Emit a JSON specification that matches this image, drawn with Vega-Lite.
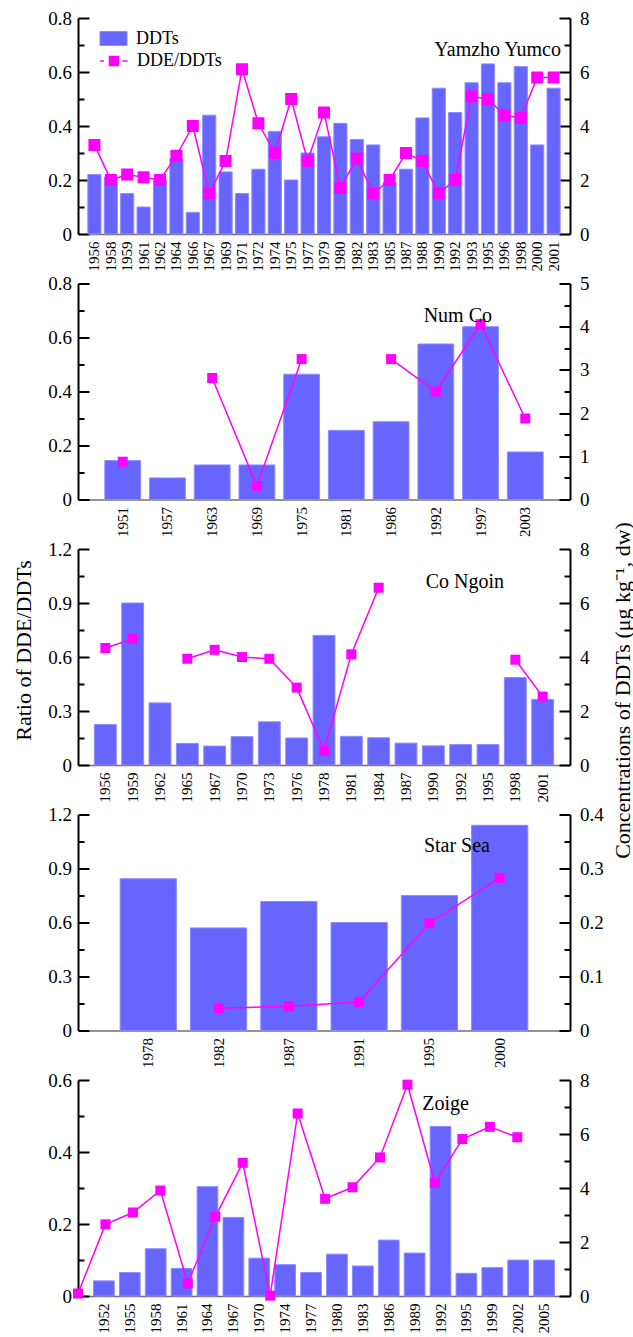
{
  "$schema": "https://vega.github.io/schema/vega-lite/v6.json",
  "padding": {"left": 12, "top": 9, "right": 0, "bottom": 0},
  "bounds": "flush",
  "spacing": 49.5,
  "config": {
    "view": {"stroke": null},
    "font": "Liberation Serif",
    "style": {"guide-label": {"font": "Liberation Serif"}, "guide-title": {"font": "Liberation Serif"}},
    "axis": {"grid": false, "domainColor": "black", "domainWidth": 2, "tickColor": "black", "tickWidth": 2, "labelFont": "Liberation Serif", "labelFontSize": 19, "labelColor": "black", "titleFont": "Liberation Serif", "titleFontSize": 22, "titleFontWeight": "normal", "titleColor": "black"},
    "axisX": {"domainColor": "#707070", "domainWidth": 1.5, "ticks": false, "labelFont": "Liberation Serif", "labelFontSize": 15, "labelAngle": -90, "labelPadding": 7, "labelOverlap": false},
    "axisY": {"labelFont": "Liberation Serif"},
    "legend": {"labelFont": "Liberation Serif"},
    "title": {"font": "Liberation Serif", "fontSize": 20, "fontWeight": "normal", "color": "black", "anchor": "end", "frame": "group", "baseline": "middle"}
  },
  "vconcat": [
    {
      "width": 492, "height": 216,
      "title": {"text": "Yamzho Yumco", "offset": -51, "dx": -9},
      "layer": [
        {
          "data": {"values": [
            {"year":1956,"ddts":2.2,"s":"DDTs"},{"year":1958,"ddts":2.1,"s":"DDTs"},{"year":1959,"ddts":1.5,"s":"DDTs"},{"year":1961,"ddts":1.0,"s":"DDTs"},{"year":1962,"ddts":2.0,"s":"DDTs"},{"year":1964,"ddts":2.8,"s":"DDTs"},{"year":1966,"ddts":0.8,"s":"DDTs"},{"year":1967,"ddts":4.4,"s":"DDTs"},{"year":1969,"ddts":2.3,"s":"DDTs"},{"year":1971,"ddts":1.5,"s":"DDTs"},{"year":1972,"ddts":2.4,"s":"DDTs"},{"year":1974,"ddts":3.8,"s":"DDTs"},{"year":1975,"ddts":2.0,"s":"DDTs"},{"year":1977,"ddts":3.0,"s":"DDTs"},{"year":1979,"ddts":3.6,"s":"DDTs"},{"year":1980,"ddts":4.1,"s":"DDTs"},{"year":1982,"ddts":3.5,"s":"DDTs"},{"year":1983,"ddts":3.3,"s":"DDTs"},{"year":1985,"ddts":1.9,"s":"DDTs"},{"year":1987,"ddts":2.4,"s":"DDTs"},{"year":1988,"ddts":4.3,"s":"DDTs"},{"year":1990,"ddts":5.4,"s":"DDTs"},{"year":1992,"ddts":4.5,"s":"DDTs"},{"year":1993,"ddts":5.6,"s":"DDTs"},{"year":1995,"ddts":6.3,"s":"DDTs"},{"year":1996,"ddts":5.6,"s":"DDTs"},{"year":1998,"ddts":6.2,"s":"DDTs"},{"year":2000,"ddts":3.3,"s":"DDTs"},{"year":2001,"ddts":5.4,"s":"DDTs"}
          ]},
          "mark": {"type": "bar", "stroke": "#8c8cff", "strokeWidth": 1},
          "encoding": {
            "x": {"field": "year", "type": "nominal", "scale": {"domain": [1956,1958,1959,1961,1962,1964,1966,1967,1969,1971,1972,1974,1975,1977,1979,1980,1982,1983,1985,1987,1988,1990,1992,1993,1995,1996,1998,2000,2001], "paddingInner": 0.2, "paddingOuter": 0.6}, "axis": {"title": null, "labelFont": "Liberation Serif"}},
            "y": {"field": "ddts", "type": "quantitative", "scale": {"domain": [0, 8], "nice": false}, "axis": {"orient": "right", "title": null, "labelFont": "Liberation Serif", "values": [0,1,2,3,4,5,6,7,8], "labelExpr": "datum.value % 2 == 0 ? format(datum.value, '~g') : ''", "tickSize": {"condition": {"test": "datum.value % 2 == 0", "value": -11}, "value": -6}, "labelPadding": 20.5}},
            "fill": {"field": "s", "type": "nominal", "scale": {"domain": ["DDTs"], "range": ["#6666ff"]},
              "legend": {"orient": "none", "legendX": 24, "legendY": 9, "title": null, "symbolType": "M-1.23,-0.64H1.23V0.64H-1.23Z", "symbolSize": 484, "symbolStrokeColor": "#8c8cff", "symbolStrokeWidth": 1, "symbolOpacity": 1, "labelFont": "Liberation Serif", "labelFontSize": 18, "labelColor": "black", "labelOffset": 11, "rowPadding": 0, "padding": 0}}
          }
        },
        {
          "data": {"values": [
            {"year":1956,"ratio":0.33,"s":"DDE/DDTs"},{"year":1958,"ratio":0.20,"s":"DDE/DDTs"},{"year":1959,"ratio":0.22,"s":"DDE/DDTs"},{"year":1961,"ratio":0.21,"s":"DDE/DDTs"},{"year":1962,"ratio":0.20,"s":"DDE/DDTs"},{"year":1964,"ratio":0.29,"s":"DDE/DDTs"},{"year":1966,"ratio":0.40,"s":"DDE/DDTs"},{"year":1967,"ratio":0.15,"s":"DDE/DDTs"},{"year":1969,"ratio":0.27,"s":"DDE/DDTs"},{"year":1971,"ratio":0.61,"s":"DDE/DDTs"},{"year":1972,"ratio":0.41,"s":"DDE/DDTs"},{"year":1974,"ratio":0.30,"s":"DDE/DDTs"},{"year":1975,"ratio":0.50,"s":"DDE/DDTs"},{"year":1977,"ratio":0.27,"s":"DDE/DDTs"},{"year":1979,"ratio":0.45,"s":"DDE/DDTs"},{"year":1980,"ratio":0.17,"s":"DDE/DDTs"},{"year":1982,"ratio":0.28,"s":"DDE/DDTs"},{"year":1983,"ratio":0.15,"s":"DDE/DDTs"},{"year":1985,"ratio":0.20,"s":"DDE/DDTs"},{"year":1987,"ratio":0.30,"s":"DDE/DDTs"},{"year":1988,"ratio":0.27,"s":"DDE/DDTs"},{"year":1990,"ratio":0.15,"s":"DDE/DDTs"},{"year":1992,"ratio":0.20,"s":"DDE/DDTs"},{"year":1993,"ratio":0.51,"s":"DDE/DDTs"},{"year":1995,"ratio":0.50,"s":"DDE/DDTs"},{"year":1996,"ratio":0.44,"s":"DDE/DDTs"},{"year":1998,"ratio":0.43,"s":"DDE/DDTs"},{"year":2000,"ratio":0.58,"s":"DDE/DDTs"},{"year":2001,"ratio":0.58,"s":"DDE/DDTs"}
          ]},
          "mark": {"type": "line", "color": "#ff00ff", "strokeWidth": 1.5, "point": {"shape": "square", "size": 100, "filled": true, "opacity": 1, "color": "#ff00ff"}},
          "encoding": {
            "x": {"field": "year", "type": "nominal"},
            "y": {"field": "ratio", "type": "quantitative", "scale": {"domain": [0, 0.8], "nice": false}, "axis": {"orient": "left", "title": null, "labelFont": "Liberation Serif", "values": [0,0.1,0.2,0.3,0.4,0.5,0.6,0.7,0.8], "labelExpr": "abs(datum.value*5 - round(datum.value*5)) < 0.001 ? format(datum.value, '~g') : ''", "tickSize": {"condition": {"test": "abs(datum.value*5 - round(datum.value*5)) < 0.001", "value": -11}, "value": -6}, "labelPadding": 17.5}},
            "stroke": {"field": "s", "type": "nominal", "scale": {"domain": ["DDE/DDTs"], "range": ["#ff00ff"]},
              "legend": {"orient": "none", "legendX": 24, "legendY": 31, "title": null, "symbolType": "M-1.27,0H-0.91M-0.41,-0.41H0.41V0.41H-0.41ZM0.77,0H1.23", "symbolSize": 484, "symbolFillColor": "#ff00ff", "symbolStrokeColor": "#ff00ff", "symbolStrokeWidth": 1.5, "symbolOpacity": 1, "labelFont": "Liberation Serif", "labelFontSize": 18, "labelColor": "black", "labelOffset": 11, "rowPadding": 0, "padding": 0}}
          }
        }
      ],
      "resolve": {"scale": {"y": "independent"}}
    },
    {
      "width": 492, "height": 216,
      "title": {"text": "Num Co", "offset": -51, "dx": -78},
      "layer": [
        {
          "data": {"values": [
            {"year":1951,"ddts":0.9},{"year":1957,"ddts":0.5},{"year":1963,"ddts":0.8},{"year":1969,"ddts":0.8},{"year":1975,"ddts":2.9},{"year":1981,"ddts":1.6},{"year":1986,"ddts":1.8},{"year":1992,"ddts":3.6},{"year":1997,"ddts":4.0},{"year":2003,"ddts":1.1}
          ]},
          "mark": {"type": "bar", "color": "#6666ff", "stroke": "#8c8cff", "strokeWidth": 1},
          "encoding": {
            "x": {"field": "year", "type": "nominal", "scale": {"domain": [1951,1957,1963,1969,1975,1981,1986,1992,1997,2003], "paddingInner": 0.2, "paddingOuter": 0.6}, "axis": {"title": null, "labelFont": "Liberation Serif"}},
            "y": {"field": "ddts", "type": "quantitative", "scale": {"domain": [0, 5], "nice": false}, "axis": {"orient": "right", "title": null, "labelFont": "Liberation Serif", "values": [0,0.5,1,1.5,2,2.5,3,3.5,4,4.5,5], "labelExpr": "datum.value % 1 == 0 ? format(datum.value, '~g') : ''", "tickSize": {"condition": {"test": "datum.value % 1 == 0", "value": -11}, "value": -6}, "labelPadding": 20.5}}
          }
        },
        {
          "data": {"values": [
            {"year":1951,"ratio":0.14,"seg":"a"},{"year":1963,"ratio":0.45,"seg":"b"},{"year":1969,"ratio":0.05,"seg":"b"},{"year":1975,"ratio":0.52,"seg":"b"},{"year":1986,"ratio":0.52,"seg":"c"},{"year":1992,"ratio":0.40,"seg":"c"},{"year":1997,"ratio":0.65,"seg":"c"},{"year":2003,"ratio":0.30,"seg":"c"}
          ]},
          "mark": {"type": "line", "color": "#ff00ff", "strokeWidth": 1.5, "point": {"shape": "square", "size": 100, "filled": true, "opacity": 1, "color": "#ff00ff"}},
          "encoding": {
            "x": {"field": "year", "type": "nominal"},
            "y": {"field": "ratio", "type": "quantitative", "scale": {"domain": [0, 0.8], "nice": false}, "axis": {"orient": "left", "title": null, "labelFont": "Liberation Serif", "values": [0,0.1,0.2,0.3,0.4,0.5,0.6,0.7,0.8], "labelExpr": "abs(datum.value*5 - round(datum.value*5)) < 0.001 ? format(datum.value, '~g') : ''", "tickSize": {"condition": {"test": "abs(datum.value*5 - round(datum.value*5)) < 0.001", "value": -11}, "value": -6}, "labelPadding": 17.5}},
            "detail": {"field": "seg", "type": "nominal"}
          }
        }
      ],
      "resolve": {"scale": {"y": "independent"}}
    },
    {
      "width": 492, "height": 216,
      "title": {"text": "Co Ngoin", "offset": -70, "dx": -66},
      "layer": [
        {
          "data": {"values": [
            {"year":1956,"ddts":1.5},{"year":1959,"ddts":6.0},{"year":1962,"ddts":2.3},{"year":1965,"ddts":0.8},{"year":1967,"ddts":0.7},{"year":1970,"ddts":1.05},{"year":1973,"ddts":1.6},{"year":1976,"ddts":1.0},{"year":1978,"ddts":4.8},{"year":1981,"ddts":1.06},{"year":1984,"ddts":1.01},{"year":1987,"ddts":0.81},{"year":1990,"ddts":0.71},{"year":1992,"ddts":0.76},{"year":1995,"ddts":0.76},{"year":1998,"ddts":3.24},{"year":2001,"ddts":2.43}
          ]},
          "mark": {"type": "bar", "color": "#6666ff", "stroke": "#8c8cff", "strokeWidth": 1},
          "encoding": {
            "x": {"field": "year", "type": "nominal", "scale": {"domain": [1956,1959,1962,1965,1967,1970,1973,1976,1978,1981,1984,1987,1990,1992,1995,1998,2001], "paddingInner": 0.2, "paddingOuter": 0.6}, "axis": {"title": null, "labelFont": "Liberation Serif"}},
            "y": {"field": "ddts", "type": "quantitative", "scale": {"domain": [0, 8], "nice": false}, "axis": {"orient": "right", "title": "Concentrations of DDTs (μg kg⁻¹, dw)", "titleFont": "Liberation Serif", "titleAngle": 270, "titleBaseline": "top", "titlePadding": 23, "titleY": 141, "labelFont": "Liberation Serif", "values": [0,1,2,3,4,5,6,7,8], "labelExpr": "datum.value % 2 == 0 ? format(datum.value, '~g') : ''", "tickSize": {"condition": {"test": "datum.value % 2 == 0", "value": -11}, "value": -6}, "labelPadding": 20.5}}
          }
        },
        {
          "data": {"values": [
            {"year":1956,"ratio":0.65,"seg":"a"},{"year":1959,"ratio":0.70,"seg":"a"},{"year":1965,"ratio":0.59,"seg":"b"},{"year":1967,"ratio":0.64,"seg":"b"},{"year":1970,"ratio":0.60,"seg":"b"},{"year":1973,"ratio":0.59,"seg":"b"},{"year":1976,"ratio":0.43,"seg":"b"},{"year":1978,"ratio":0.08,"seg":"b"},{"year":1981,"ratio":0.615,"seg":"b"},{"year":1984,"ratio":0.985,"seg":"b"},{"year":1998,"ratio":0.585,"seg":"c"},{"year":2001,"ratio":0.38,"seg":"c"}
          ]},
          "mark": {"type": "line", "color": "#ff00ff", "strokeWidth": 1.5, "point": {"shape": "square", "size": 100, "filled": true, "opacity": 1, "color": "#ff00ff"}},
          "encoding": {
            "x": {"field": "year", "type": "nominal"},
            "y": {"field": "ratio", "type": "quantitative", "scale": {"domain": [0, 1.2], "nice": false}, "axis": {"orient": "left", "title": "Ratio of DDE/DDTs", "titleFont": "Liberation Serif", "titlePadding": 12, "titleY": 101, "labelFont": "Liberation Serif", "values": [0,0.15,0.3,0.45,0.6,0.75,0.9,1.05,1.2], "labelExpr": "abs(datum.value/0.3 - round(datum.value/0.3)) < 0.001 ? format(datum.value, '~g') : ''", "tickSize": {"condition": {"test": "abs(datum.value/0.3 - round(datum.value/0.3)) < 0.001", "value": -11}, "value": -6}, "labelPadding": 17.5}},
            "detail": {"field": "seg", "type": "nominal"}
          }
        }
      ],
      "resolve": {"scale": {"y": "independent"}}
    },
    {
      "width": 492, "height": 216,
      "title": {"text": "Star Sea", "offset": -50, "dx": -80},
      "layer": [
        {
          "data": {"values": [
            {"year":1978,"ddts":0.281},{"year":1982,"ddts":0.190},{"year":1987,"ddts":0.239},{"year":1991,"ddts":0.200},{"year":1995,"ddts":0.250},{"year":2000,"ddts":0.380}
          ]},
          "mark": {"type": "bar", "color": "#6666ff", "stroke": "#8c8cff", "strokeWidth": 1},
          "encoding": {
            "x": {"field": "year", "type": "nominal", "scale": {"domain": [1978,1982,1987,1991,1995,2000], "paddingInner": 0.2, "paddingOuter": 0.6}, "axis": {"title": null, "labelFont": "Liberation Serif"}},
            "y": {"field": "ddts", "type": "quantitative", "scale": {"domain": [0, 0.4], "nice": false}, "axis": {"orient": "right", "title": null, "labelFont": "Liberation Serif", "values": [0,0.05,0.1,0.15,0.2,0.25,0.3,0.35,0.4], "labelExpr": "abs(datum.value*10 - round(datum.value*10)) < 0.001 ? format(datum.value, '~g') : ''", "tickSize": {"condition": {"test": "abs(datum.value*10 - round(datum.value*10)) < 0.001", "value": -11}, "value": -6}, "labelPadding": 20.5}}
          }
        },
        {
          "data": {"values": [
            {"year":1982,"ratio":0.124},{"year":1987,"ratio":0.135},{"year":1991,"ratio":0.158},{"year":1995,"ratio":0.596},{"year":2000,"ratio":0.848}
          ]},
          "mark": {"type": "line", "color": "#ff00ff", "strokeWidth": 1.5, "point": {"shape": "square", "size": 100, "filled": true, "opacity": 1, "color": "#ff00ff"}},
          "encoding": {
            "x": {"field": "year", "type": "nominal"},
            "y": {"field": "ratio", "type": "quantitative", "scale": {"domain": [0, 1.2], "nice": false}, "axis": {"orient": "left", "title": null, "labelFont": "Liberation Serif", "values": [0,0.15,0.3,0.45,0.6,0.75,0.9,1.05,1.2], "labelExpr": "abs(datum.value/0.3 - round(datum.value/0.3)) < 0.001 ? format(datum.value, '~g') : ''", "tickSize": {"condition": {"test": "abs(datum.value/0.3 - round(datum.value/0.3)) < 0.001", "value": -11}, "value": -6}, "labelPadding": 17.5}}
          }
        }
      ],
      "resolve": {"scale": {"y": "independent"}}
    },
    {
      "width": 492, "height": 216,
      "title": {"text": "Zoige", "offset": -43, "dx": -101},
      "layer": [
        {
          "data": {"values": [
            {"year":1952,"ddts":0.56},{"year":1955,"ddts":0.87},{"year":1958,"ddts":1.75},{"year":1961,"ddts":1.02},{"year":1964,"ddts":4.05},{"year":1967,"ddts":2.91},{"year":1970,"ddts":1.40},{"year":1974,"ddts":1.16},{"year":1977,"ddts":0.87},{"year":1980,"ddts":1.55},{"year":1983,"ddts":1.11},{"year":1986,"ddts":2.07},{"year":1989,"ddts":1.59},{"year":1992,"ddts":6.28},{"year":1995,"ddts":0.84},{"year":1999,"ddts":1.05},{"year":2002,"ddts":1.33},{"year":2005,"ddts":1.33}
          ]},
          "mark": {"type": "bar", "color": "#6666ff", "stroke": "#8c8cff", "strokeWidth": 1},
          "encoding": {
            "x": {"field": "year", "type": "nominal", "scale": {"domain": [1952,1955,1958,1961,1964,1967,1970,1974,1977,1980,1983,1986,1989,1992,1995,1999,2002,2005], "paddingInner": 0.2, "paddingOuter": 0.6}, "axis": {"title": null, "labelFont": "Liberation Serif"}},
            "y": {"field": "ddts", "type": "quantitative", "scale": {"domain": [0, 8], "nice": false}, "axis": {"orient": "right", "title": null, "labelFont": "Liberation Serif", "values": [0,1,2,3,4,5,6,7,8], "labelExpr": "datum.value % 2 == 0 ? format(datum.value, '~g') : ''", "tickSize": {"condition": {"test": "datum.value % 2 == 0", "value": -11}, "value": -6}, "labelPadding": 20.5}}
          }
        },
        {
          "data": {"values": [
            {"pos":0,"ratio":0.007},{"pos":1,"ratio":0.199},{"pos":2,"ratio":0.232},{"pos":3,"ratio":0.293},{"pos":4,"ratio":0.035},{"pos":5,"ratio":0.220},{"pos":6,"ratio":0.370},{"pos":7,"ratio":0.001},{"pos":8,"ratio":0.507},{"pos":9,"ratio":0.270},{"pos":10,"ratio":0.302},{"pos":11,"ratio":0.385},{"pos":12,"ratio":0.587},{"pos":13,"ratio":0.314},{"pos":14,"ratio":0.436},{"pos":15,"ratio":0.470},{"pos":16,"ratio":0.441}
          ]},
          "mark": {"type": "line", "color": "#ff00ff", "strokeWidth": 1.5, "point": {"shape": "square", "size": 100, "filled": true, "opacity": 1, "color": "#ff00ff"}},
          "encoding": {
            "x": {"field": "pos", "type": "quantitative", "scale": {"domain": [0, 17.92], "nice": false, "zero": false}, "axis": null},
            "y": {"field": "ratio", "type": "quantitative", "scale": {"domain": [0, 0.6], "nice": false}, "axis": {"orient": "left", "title": null, "labelFont": "Liberation Serif", "values": [0,0.1,0.2,0.3,0.4,0.5,0.6], "labelExpr": "abs(datum.value*5 - round(datum.value*5)) < 0.001 ? format(datum.value, '~g') : ''", "tickSize": {"condition": {"test": "abs(datum.value*5 - round(datum.value*5)) < 0.001", "value": -11}, "value": -6}, "labelPadding": 17.5}}
          }
        }
      ],
      "resolve": {"scale": {"x": "independent", "y": "independent"}}
    }
  ]
}
